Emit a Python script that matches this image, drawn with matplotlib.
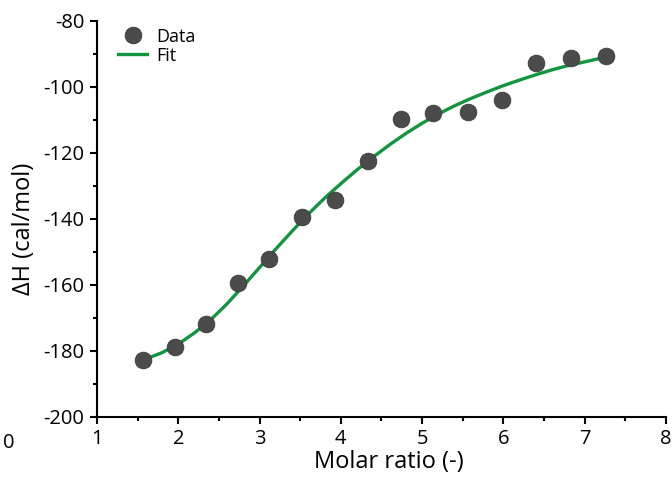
import numpy as np
import matplotlib
matplotlib.use('Agg')
import matplotlib.pyplot as plt
from matplotlib.ticker import MultipleLocator

plt.rcParams['font.family'] = ['Open Sans', 'DejaVu Sans']
plt.rcParams['axes.unicode_minus'] = False

# titration points
molar_ratio = [1.57, 1.96, 2.34, 2.73, 3.12, 3.52, 3.93, 4.33,
               4.74, 5.14, 5.56, 5.98, 6.40, 6.83, 7.26]
delta_h = [-182.8, -179.0, -172.0, -159.4, -152.1, -139.4, -134.3, -122.5,
           -109.9, -107.9, -107.6, -104.2, -92.9, -91.4, -90.7]

# fitted curve
fit_x = [1.57, 1.8, 2.0, 2.2, 2.4, 2.6, 2.8, 3.0, 3.2, 3.4, 3.6, 3.8, 4.0,
         4.2, 4.4, 4.6, 4.8, 5.0, 5.2, 5.4, 5.6, 5.8, 6.0, 6.2, 6.4, 6.6,
         6.8, 7.0, 7.27]
fit_y = [-182.8, -180.6, -178.0, -174.6, -170.6, -165.8, -160.4, -154.8,
         -149.2, -143.8, -138.6, -133.8, -129.4, -125.2, -121.3, -117.6,
         -114.2, -111.1, -108.3, -105.8, -103.6, -101.6, -99.7, -98.0,
         -96.4, -94.9, -93.6, -92.5, -91.0]

fig = plt.figure(figsize=(6.72, 4.79), dpi=100)
ax = fig.add_axes([0.1443, 0.130, 0.8467, 0.827])

green = '#13953f'
ax.plot(fit_x, fit_y, color=green, lw=2.4, label='Fit', zorder=2)
ax.plot(molar_ratio, delta_h, 'o', color='#4b4b4b', mec='#3a3a3a', mew=0.6,
        ms=12, label='Data', zorder=3)

ax.set_xlim(1, 8)
ax.set_ylim(-200, -80)
ax.xaxis.set_major_locator(MultipleLocator(1))
ax.xaxis.set_minor_locator(MultipleLocator(0.5))
ax.yaxis.set_major_locator(MultipleLocator(20))
ax.yaxis.set_minor_locator(MultipleLocator(10))

for side in ['top', 'right']:
    ax.spines[side].set_visible(False)
for side in ['left', 'bottom']:
    ax.spines[side].set_linewidth(1.5)
    ax.spines[side].set_capstyle('projecting')
ax.tick_params(which='major', direction='out', length=5, width=1.5,
               labelsize=14.5, pad=4, colors='black')
ax.tick_params(which='minor', direction='out', length=2.6, width=1.5)

ax.set_xlabel('Molar ratio (-)', fontsize=17)
ax.xaxis.set_label_coords(0.513, -0.085)
ax.set_ylabel('ΔH (cal/mol)', fontsize=17)
ax.yaxis.set_label_coords(-0.108, 0.474)

handles, labels = ax.get_legend_handles_labels()
ax.legend(handles[::-1], labels[::-1], loc='upper left', frameon=False,
          fontsize=13, handlelength=1.6, handletextpad=0.5, labelspacing=0.05,
          borderaxespad=0.0, bbox_to_anchor=(0.025, 1.0))

# edge of the neighbouring panel
fig.text(0.004, 1 - 448 / 479, '0', fontsize=14.5, ha='left', va='baseline')

fig.savefig('out.png', dpi=100)
